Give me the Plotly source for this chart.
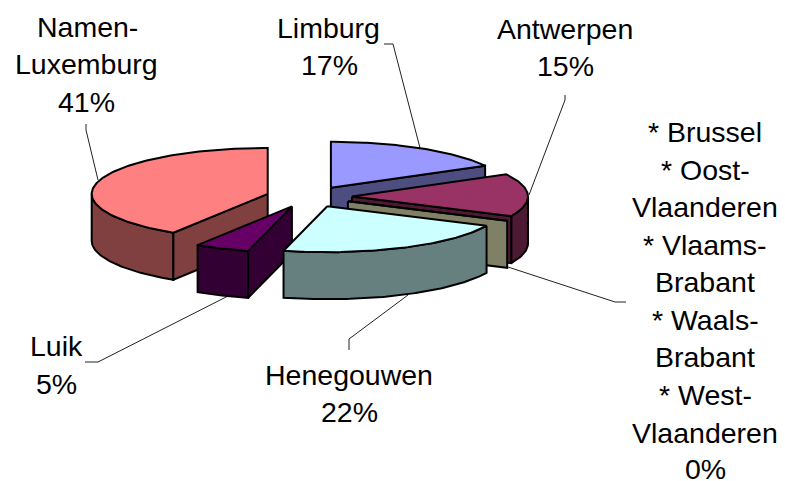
import numpy as np
import plotly.graph_objects as go

# Data
categories = ["Limburg", "Antwerpen", "Overige", "Henegouwen", "Luik", "Namen-Luxemburg"]
values = [17, 15, 0, 22, 5, 41]
top_colors = ["#9999ff", "#993366", "#ffffcc", "#ccffff", "#660066", "#ff8080"]
side_colors = ["#4d4d80", "#4d1933", "#808066", "#668080", "#330033", "#804040"]
draw_order = ["Limburg", "Antwerpen", "Overige", "Namen-Luxemburg", "Luik", "Henegouwen"]

# Labels: (text, centre x, centre y)
label_lines = [
    ("Namen-", 87, 27), ("Luxemburg", 86, 64), ("41%", 86, 102),
    ("Limburg", 328, 28), ("17%", 329, 65),
    ("Antwerpen", 565, 29), ("15%", 565, 66),
    ("* Brussel", 705, 132), ("* Oost-", 705, 170), ("Vlaanderen", 705, 207),
    ("* Vlaams-", 705, 245), ("Brabant", 705, 282), ("* Waals-", 705, 320),
    ("Brabant", 705, 357), ("* West-", 705, 395), ("Vlaanderen", 705, 433),
    ("0%", 705, 469),
    ("Luik", 56, 346), ("5%", 56, 384),
    ("Henegouwen", 349, 375), ("22%", 349, 412),
]
leader_lines = [
    ([86, 86, 98], [124, 130, 180]),
    ([384, 393, 420], [44, 44, 148]),
    ([565, 565, 529], [95, 100, 195]),
    ([508, 615, 626], [267, 302, 302]),
    ([408, 349, 349], [295, 339, 350]),
    ([232, 98, 85], [294, 362, 362]),
]

# Pie geometry in pixels
CX, CY = 309.0, 196.8
RX, RY = 176.0, 46.0
DEPTH = 47.0
EX, EY = 43.0, 10.4

cum = np.cumsum([0] + values) / sum(values) * 360.0
start = dict(zip(categories, cum[:-1]))
end = dict(zip(categories, cum[1:]))


def rim(a, ox, oy, dz=0.0):
    r = np.radians(a)
    return ox + RX * np.sin(r), oy - RY * np.cos(r) + dz


def arc(a0, a1, ox, oy, dz=0.0):
    n = max(2, int(abs(a1 - a0)) + 2)
    return rim(np.linspace(a0, a1, n), ox, oy, dz)


fig = go.Figure()


def poly(xs, ys, color):
    fig.add_trace(go.Scatter(
        x=list(xs), y=list(ys), mode="lines", fill="toself", fillcolor=color,
        line=dict(color="black", width=2), hoverinfo="skip", showlegend=False))


def radial_wall(a, ox, oy, color):
    x, y = rim(a, ox, oy)
    poly([ox, x, x, ox, ox], [oy, y, y + DEPTH, oy + DEPTH, oy], color)


for x, y in leader_lines:
    fig.add_trace(go.Scatter(x=x, y=y, mode="lines", line=dict(color="#222222", width=1),
                             hoverinfo="skip", showlegend=False))

for name in draw_order:
    i = categories.index(name)
    a0, a1 = start[name], end[name]
    mid = np.radians((a0 + a1) / 2)
    ox = CX + EX * np.sin(mid)
    oy = CY - EY * np.cos(mid)
    side, top = side_colors[i], top_colors[i]
    # outer wall, front half only
    f0, f1 = max(a0, 90.0), min(a1, 270.0)
    if f1 > f0:
        tx, ty = arc(f0, f1, ox, oy)
        bx, by = arc(f1, f0, ox, oy, DEPTH)
        poly(np.r_[tx, bx, tx[0]], np.r_[ty, by, ty[0]], side)
    # radial walls that face the viewer
    if a0 > 180:
        radial_wall(a0, ox, oy, side)
    if a1 < 180:
        radial_wall(a1, ox, oy, side)
    # top face
    tx, ty = arc(a0, a1, ox, oy)
    poly(np.r_[ox, tx, ox], np.r_[oy, ty, oy], top)

for text, x, y in label_lines:
    extra = dict(height=24) if text == "0%" else {}
    fig.add_annotation(x=x, y=y, text=text, showarrow=False, xanchor="center", yanchor="middle",
                       font=dict(family="Liberation Sans", size=28.5, color="black"), **extra)

fig.update_layout(
    width=785, height=481, margin=dict(l=0, r=0, t=0, b=0),
    paper_bgcolor="white", plot_bgcolor="white", showlegend=False,
    xaxis=dict(range=[0, 785], visible=False, fixedrange=True),
    yaxis=dict(range=[481, 0], visible=False, fixedrange=True),
)
fig.write_html("out.html", post_script="document.body.style.margin='0';",
               config=dict(displayModeBar=False))
